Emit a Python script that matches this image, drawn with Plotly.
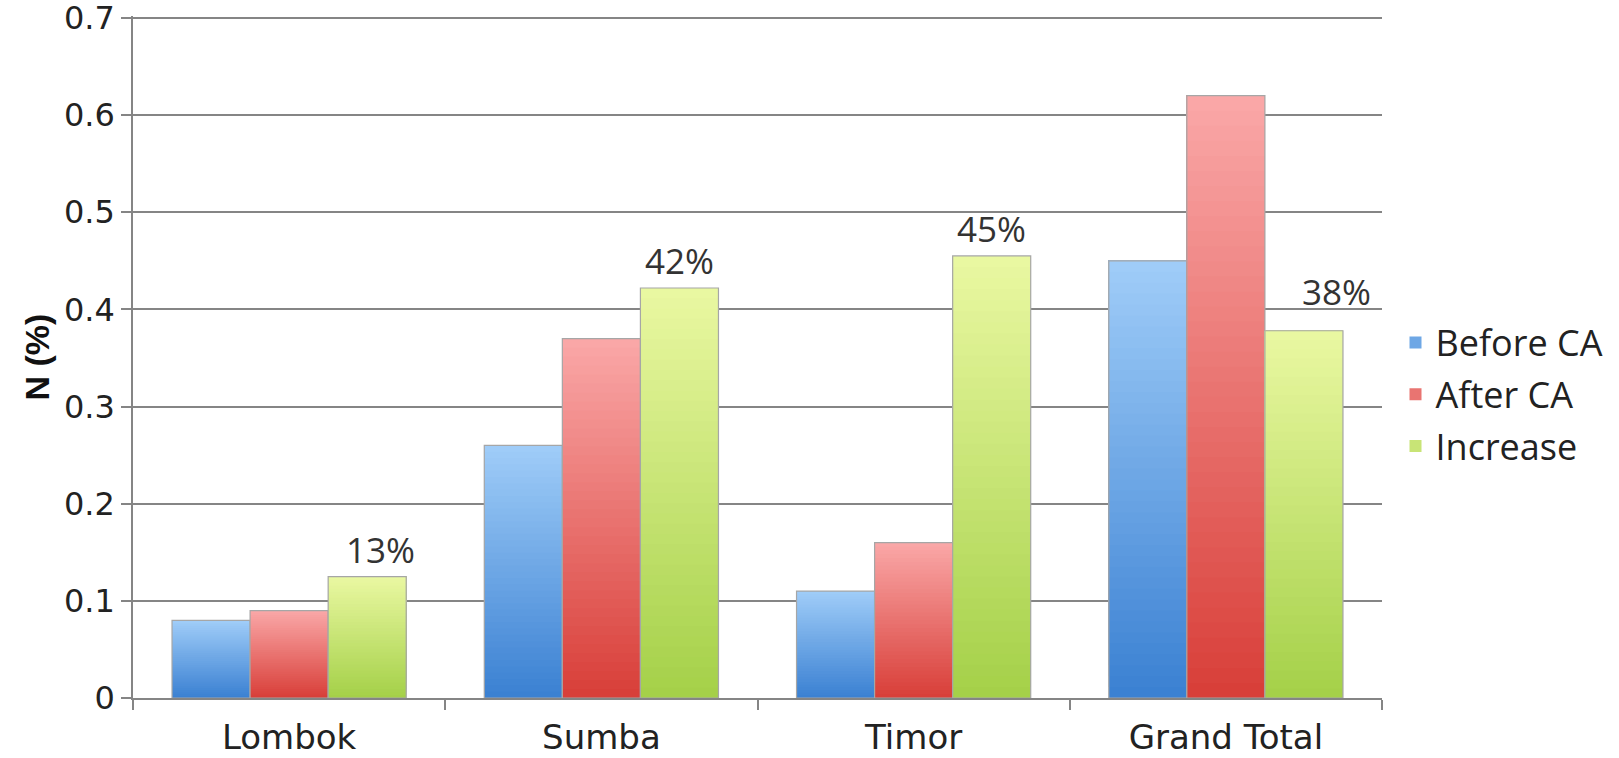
import numpy as np
import plotly.graph_objects as go

categories = ["Lombok", "Sumba", "Timor", "Grand Total"]
before_ca = [0.08, 0.26, 0.11, 0.45]
after_ca = [0.09, 0.37, 0.16, 0.62]
increase = [0.125, 0.422, 0.455, 0.378]
increase_labels = ["13%", "42%", "45%", "38%"]
series_names = ["Before CA", "After CA", "Increase"]
y_ticks = [0, 0.1, 0.2, 0.3, 0.4, 0.5, 0.6, 0.7]

# style: gradient endpoints (top colour, bottom colour) per series
grad = {
    "Before CA": ((160, 205, 248), (58, 128, 210)),
    "After CA": ((250, 168, 168), (216, 62, 56)),
    "Increase": ((234, 248, 162), (164, 208, 72)),
}
label_xshift = [13, 0, 0, 33]
label_yshift = [2, 2, 2, 14]
K = 40

fig = go.Figure()
series_vals = [before_ca, after_ca, increase]
for name, vals in zip(series_names, series_vals):
    v = np.array(vals, dtype=float)
    top, bot = grad[name]
    for k in range(K):
        t = (k + 0.5) / K  # 0 bottom -> 1 top
        col = tuple(int(round(bot[i] + (top[i] - bot[i]) * t)) for i in range(3))
        # each layer spans from its own base up to the bar top; later layers cover earlier ones
        fig.add_trace(go.Bar(
            x=categories, y=v * (K - k) / K, base=v * k / K,
            offsetgroup=name, legendgroup=name, name=name,
            showlegend=(k == K // 2),
            marker=dict(color="rgb(%d,%d,%d)" % col, line=dict(width=0)),
            hoverinfo="skip",
        ))
    fig.add_trace(go.Bar(
        x=categories, y=v, offsetgroup=name, legendgroup=name, name=name,
        showlegend=False,
        marker=dict(color="rgba(0,0,0,0)", line=dict(color="#a6a6a6", width=1.2)),
    ))

for i, (val, lab) in enumerate(zip(increase, increase_labels)):
    fig.add_annotation(
        x=i + 0.25, y=val, text=lab, showarrow=False,
        yanchor="bottom", xanchor="center",
        xshift=label_xshift[i], yshift=label_yshift[i],
        font=dict(family="Open Sans", size=35, color="#333333"),
    )

fig.update_layout(
    width=1619, height=758,
    margin=dict(l=133, r=236, t=16, b=60),
    paper_bgcolor="white", plot_bgcolor="white",
    barmode="group", bargap=0.25, bargroupgap=0,
    legend=dict(
        x=1.01, y=0.445, xanchor="left", yanchor="middle",
        font=dict(family="Open Sans", size=36, color="#222222"),
        tracegroupgap=2, itemwidth=30,
    ),
    font=dict(family="Open Sans", color="#222222"),
)
fig.update_yaxes(
    range=[0, 0.702], tickvals=y_ticks, ticktext=[("%g" % t) for t in y_ticks],
    showgrid=True, gridcolor="#858585", gridwidth=1.5,
    showline=True, linecolor="#858585", linewidth=1.5,
    ticks="outside", ticklen=10, tickcolor="#858585", tickwidth=1.5,
    tickfont=dict(family="DejaVu Sans", size=32, color="#222222"),
    ticklabeloverflow="allow",
    zeroline=False, automargin=False,
    title=dict(text="<b>N (%)</b>", font=dict(family="Liberation Sans", size=34, color="#111111"), standoff=4),
)
fig.update_xaxes(
    showline=True, linecolor="#858585", linewidth=1.5,
    ticks="outside", ticklen=10, tickcolor="#858585", tickwidth=1.5,
    tickson="boundaries", ticklabelstandoff=8, automargin=False,
    tickfont=dict(family="DejaVu Sans", size=34, color="#222222"),
)

fig.write_html("out.html")
